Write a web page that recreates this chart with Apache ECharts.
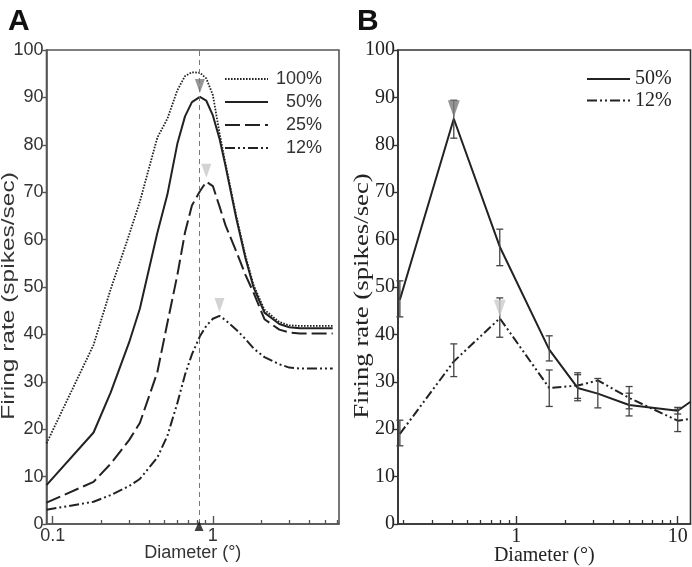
<!DOCTYPE html>
<html><head><meta charset="utf-8">
<script src="https://cdn.jsdelivr.net/npm/echarts@6/dist/echarts.min.js"></script>
<style>html,body{margin:0;padding:0;background:#fff}#c{width:692px;height:567px}</style>
</head><body><div id="c"></div>
<script>
// ---------- Panel A data (model curves) ----------
const xA   = [0.0915, 0.18, 0.23, 0.3, 0.35, 0.45, 0.52, 0.6, 0.67, 0.74, 0.83, 0.91, 1.0, 1.1, 1.2, 1.4, 1.6, 1.8, 2.1, 2.6, 3.0, 3.5, 5.6];
const a100 = [17.0, 37.8, 49.5, 61.0, 68.0, 81.5, 85.5, 91.5, 94.5, 95.3, 95.2, 94.0, 90.5, 82.5, 76.0, 65.0, 56.5, 50.3, 45.2, 42.6, 41.9, 41.8, 41.8];
const a50  = [8.2, 19.3, 27.7, 38.3, 45.4, 61.4, 69.5, 80.2, 86.0, 89.0, 90.1, 89.3, 86.2, 81.3, 75.5, 64.5, 56.0, 49.8, 44.6, 42.2, 41.5, 41.3, 41.3];
const a25  = [4.5, 8.9, 12.7, 17.7, 21.3, 32.0, 42.4, 52.5, 61.5, 67.2, 70.2, 72.2, 71.3, 67.0, 63.0, 57.5, 52.5, 48.7, 43.2, 41.0, 40.4, 40.2, 40.2];
const a12  = [3.0, 4.7, 6.1, 8.0, 9.5, 14.0, 18.6, 25.5, 31.5, 35.8, 39.6, 41.8, 43.3, 43.9, 43.0, 41.0, 39.0, 37.0, 35.2, 33.7, 33.0, 32.8, 32.8];
const namesA = ['100%', '50%', '25%', '12%'];
const markDiameter = 0.82;
const majorTicksA = [0.1, 1];
const minorTicksA = [0.2, 0.3, 0.4, 0.5, 0.6, 0.7, 0.8, 0.9, 2, 3, 4, 5, 6];

// ---------- Panel B data (measured) ----------
const xB    = [0.19, 0.41, 0.79, 1.6, 2.4, 3.2, 5.0, 10, 12];
const b50   = [47.3, 85.5, 58.5, 36.8, 28.7, 27.5, 25.1, 23.9, 25.8];
const b50Lo = [43.7, 81.4, 54.5, 34.4, 26.0, 24.5, 22.8, 23.2, null];
const b50Hi = [51.3, 89.4, 62.2, 39.7, 31.5, 30.7, 27.6, 24.6, null];
const b12   = [19.0, 34.3, 43.4, 28.7, 29.2, 30.3, 26.6, 21.8, 22.2];
const b12Lo = [16.5, 31.1, 39.4, 24.8, 26.5, null, 24.3, 19.5, null];
const b12Hi = [21.9, 38.0, 47.7, 32.5, 31.9, null, 29.0, 24.2, null];
const namesB = ['50%', '12%'];
const majorTicksB = [1, 10];
const minorTicksB = [0.2, 0.3, 0.4, 0.5, 0.6, 0.7, 0.8, 0.9, 2, 3, 4, 5, 6, 7, 8, 9];
const yTicks = [0, 100, 10];
const yTitle = 'Firing rate (spikes/sec)';
const xTitle = 'Diameter (°)';

// ---------- helpers ----------
const pairs = (xs, ys) => xs.map((x, i) => [x, ys[i]]);
const peak = (xs, ys) => { let k = 0; ys.forEach((v, i) => { if (v > ys[k]) k = i; }); return [xs[k], ys[k]]; };
const errData = (xs, lo, hi) => xs.map((x, i) => [x, lo[i], hi[i]]).filter(d => d[1] != null);

const SANS = 'Liberation Sans, Arial, sans-serif';
const SERIF = 'Liberation Serif, Times New Roman, serif';
const cA = '#555', tA = '#333';
const cB = '#333', tB = '#222';

const dashA = { '100%': [1.6, 1.4], '50%': 'solid', '25%': [15, 5], '12%': [10, 3, 2, 3, 2, 3] };
const widthA = { '100%': 1.8, '50%': 2, '25%': 2, '12%': 2 };
const dataA = { '100%': a100, '50%': a50, '25%': a25, '12%': a12 };

function errRender(params, api) {
  const x = api.value(0), lo = api.value(1), hi = api.value(2);
  const p1 = api.coord([x, lo]), p2 = api.coord([x, hi]);
  const w = 3.5, st = { stroke: '#444', lineWidth: 1.3 };
  return { type: 'group', children: [
    { type: 'line', shape: { x1: p1[0], y1: p1[1], x2: p2[0], y2: p2[1] }, style: st },
    { type: 'line', shape: { x1: p1[0] - w, y1: p1[1], x2: p1[0] + w, y2: p1[1] }, style: st },
    { type: 'line', shape: { x1: p2[0] - w, y1: p2[1], x2: p2[0] + w, y2: p2[1] }, style: st }
  ]};
}

const yAxisCommon = (color, text, font, size) => ({
  type: 'value', min: yTicks[0], max: yTicks[1], interval: yTicks[2],
  axisLine: { show: true, lineStyle: { color: color, width: 1.6 } },
  axisTick: { show: true, inside: false, length: 4, lineStyle: { color: color, width: 1.4 } },
  axisLabel: { color: text, fontFamily: font, fontSize: size, margin: 3 },
  splitLine: { show: false }
});

const xAxisMajor = (grid, min, max, ticks, color, text, font, size, gap) => ({
  type: 'log', logBase: 10, gridIndex: grid, min: min, max: max, position: 'bottom',
  name: xTitle, nameLocation: 'middle', nameGap: gap, nameMoveOverlap: false,
  nameTextStyle: { color: text, fontFamily: font, fontSize: size },
  axisLine: { show: true, lineStyle: { color: color, width: 1.6 } },
  axisTick: { show: true, inside: true, length: 8, customValues: ticks, lineStyle: { color: color, width: 1.4 } },
  axisLabel: { show: true, customValues: ticks, color: text, fontFamily: font, fontSize: size, margin: 3,
               formatter: v => String(v) },
  splitLine: { show: false }, minorTick: { show: false }
});
const xAxisMinor = (grid, min, max, ticks, color) => ({
  type: 'log', logBase: 10, gridIndex: grid, min: min, max: max, position: 'bottom', offset: 0,
  axisLine: { show: false },
  axisTick: { show: true, inside: true, length: 4, customValues: ticks, lineStyle: { color: color, width: 1.3 } },
  axisLabel: { show: false }, splitLine: { show: false }
});

const seriesA = namesA.map((n, i) => ({
  name: n, type: 'line', xAxisIndex: 0, yAxisIndex: 0, data: pairs(xA, dataA[n]),
  showSymbol: false, symbol: 'none', smooth: false,
  lineStyle: { color: '#222', width: widthA[n], type: dashA[n] },
  itemStyle: { color: '#222' }, z: 3,
  markLine: i === 0 ? { silent: true, symbol: 'none', label: { show: false },
    lineStyle: { color: '#777', width: 1, type: [5, 4] }, data: [{ xAxis: markDiameter }] } : undefined
}));

const triA = [
  { pt: peak(xA, a50), color: '#7a7a7a' },
  { pt: peak(xA, a25), color: '#c8c8c8' },
  { pt: peak(xA, a12), color: '#c8c8c8' }
];
const triB = [
  { pt: peak(xB, b50), color: '#7a7a7a' },
  { pt: peak(xB, b12), color: '#cccccc' }
];

const option = {
  animation: false,
  backgroundColor: '#fff',
  title: [
    { text: 'A', left: 3, top: 2, textStyle: { fontFamily: SANS, fontSize: 30, fontWeight: 'bold', color: '#111' } },
    { text: 'B', left: 352, top: 2, textStyle: { fontFamily: SANS, fontSize: 30, fontWeight: 'bold', color: '#111' } }
  ],
  graphic: [
    { type: 'text', x: 9, y: 296, rotation: Math.PI / 2, scaleX: 1.36, silent: true,
      style: { text: yTitle, font: '18px Liberation Sans', fill: tA, align: 'center', verticalAlign: 'middle',
               textAlign: 'center', textVerticalAlign: 'middle' } },
    { type: 'text', x: 363, y: 296, rotation: Math.PI / 2, scaleX: 1.34, silent: true,
      style: { text: yTitle, font: '20px Liberation Serif', fill: tB, align: 'center', verticalAlign: 'middle',
               textAlign: 'center', textVerticalAlign: 'middle' } }
  ],
  legend: [
    { data: namesA, orient: 'vertical', left: 224, top: 70, padding: 0, itemWidth: 43, itemHeight: 14, itemGap: 5,
      selectedMode: false, itemStyle: { opacity: 0 },
      formatter: n => '{r|' + n + '}',
      textStyle: { rich: { r: { width: 49, align: 'right', fontFamily: SANS, fontSize: 18, color: tA } } } },
    { data: namesB, orient: 'vertical', left: 586, top: 69, padding: 0, itemWidth: 43, itemHeight: 14, itemGap: 1.5,
      selectedMode: false, itemStyle: { opacity: 0 },
      textStyle: { fontFamily: SERIF, fontSize: 20, color: tB } }
  ],
  grid: [
    { left: 46.5, top: 50, right: 353, bottom: 43, show: true, borderColor: cA, borderWidth: 1.6,
      backgroundColor: 'transparent', containLabel: false, outerBoundsMode: 'none' },
    { left: 398, top: 50, right: 1.5, bottom: 43, show: true, borderColor: cB, borderWidth: 1.6,
      backgroundColor: 'transparent', containLabel: false, outerBoundsMode: 'none' }
  ],
  xAxis: [
    xAxisMajor(0, 0.0915, 6.13, majorTicksA, cA, tA, SANS, 18, 20),
    xAxisMinor(0, 0.0915, 6.13, minorTicksA, cA),
    xAxisMajor(1, 0.185, 12, majorTicksB, cB, tB, SERIF, 20, 22),
    xAxisMinor(1, 0.185, 12, minorTicksB, cB)
  ],
  yAxis: [
    Object.assign(yAxisCommon(cA, tA, SANS, 18), { gridIndex: 0 }),
    Object.assign(yAxisCommon(cB, tB, SERIF, 20), { gridIndex: 1 })
  ],
  series: [
    ...seriesA,
    { name: 'peaksA', type: 'scatter', xAxisIndex: 0, yAxisIndex: 0, z: 5, clip: false,
      symbol: 'triangle', symbolSize: [10, 14], symbolRotate: 180, symbolOffset: [0, -11],
      data: triA.map(t => ({ value: t.pt, itemStyle: { color: t.color } })) },
    { name: 'markA', type: 'scatter', xAxisIndex: 0, yAxisIndex: 0, z: 6, clip: false,
      symbol: 'triangle', symbolSize: [9, 10], symbolOffset: [0, 2],
      itemStyle: { color: '#111' }, data: [[markDiameter, 0]] },
    { name: '50%', type: 'line', xAxisIndex: 2, yAxisIndex: 1, data: pairs(xB, b50),
      showSymbol: false, symbol: 'none', lineStyle: { color: '#222', width: 2, type: 'solid' }, itemStyle: { color: '#222' }, z: 3 },
    { name: '12%', type: 'line', xAxisIndex: 2, yAxisIndex: 1, data: pairs(xB, b12),
      showSymbol: false, symbol: 'none', lineStyle: { color: '#222', width: 2, type: [9, 3, 2, 3, 2, 3] }, itemStyle: { color: '#222' }, z: 3 },
    { name: 'err50', type: 'custom', xAxisIndex: 2, yAxisIndex: 1, renderItem: errRender,
      encode: { x: 0, y: [1, 2] }, data: errData(xB, b50Lo, b50Hi), z: 4 },
    { name: 'err12', type: 'custom', xAxisIndex: 2, yAxisIndex: 1, renderItem: errRender,
      encode: { x: 0, y: [1, 2] }, data: errData(xB, b12Lo, b12Hi), z: 4 },
    { name: 'peaksB', type: 'scatter', xAxisIndex: 2, yAxisIndex: 1, z: 5, clip: false,
      symbol: 'triangle', symbolSize: [12, 17], symbolRotate: 180, symbolOffset: [0, -10],
      data: triB.map(t => ({ value: t.pt, itemStyle: { color: t.color } })) }
  ]
};

const chart = echarts.init(document.getElementById('c'), null, { renderer: 'canvas' });
chart.setOption(option);
</script></body></html>
